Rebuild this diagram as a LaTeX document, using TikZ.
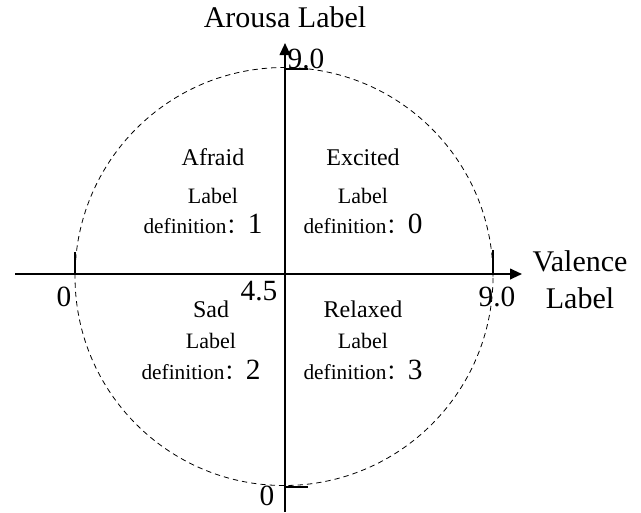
\documentclass[tikz,border=0pt]{standalone}
\usepackage{fontspec}
\setmainfont{Liberation Serif}
\newfontfamily\cjk{Noto Sans CJK SC}
\usetikzlibrary{arrows.meta}
\newcommand{\qdefn}[1]{definition{\cjk ：}{\fontsize{22}{24}\selectfont #1}}
\begin{document}
\begin{tikzpicture}[x=0.75pt,y=-0.75pt,
  axis/.style={line width=1.4pt},
  tickline/.style={line width=1.2pt},
  big/.style={font=\fontsize{22.5}{25}\selectfont, inner sep=0pt},
  num/.style={font=\fontsize{22}{24}\selectfont, inner sep=0pt},
  qtitle/.style={font=\fontsize{18}{20}\selectfont, inner sep=0pt},
  qlab/.style={font=\fontsize{16.5}{19}\selectfont, inner sep=0pt},
  qdef/.style={font=\fontsize{16}{19}\selectfont, inner sep=0pt}]
\useasboundingbox (0,0) rectangle (641,512);
\coordinate (center) at (284,276.5);
\draw[dashed, line width=0.6pt, dash pattern=on 4pt off 3pt] (center) circle[radius=156.75pt];
\coordinate (hstart) at (15,274);
\coordinate (hend) at (522,274);
\coordinate (vstart) at (285,512);
\coordinate (vend) at (285,43);
\draw[axis,-{Triangle[length=9pt,width=8pt]}] (hstart) -- (hend);
\draw[axis,-{Triangle[length=9pt,width=8pt]}] (vstart) -- (vend);
% ticks
\coordinate (tl0) at (75,274); \coordinate (tl1) at (75,252);
\coordinate (tr0) at (493,274); \coordinate (tr1) at (493,250);
\coordinate (tt0) at (285,69); \coordinate (tt1) at (308,69);
\coordinate (tb0) at (285,487); \coordinate (tb1) at (308,487);
\draw[tickline] (tl0) -- (tl1);
\draw[tickline] (tr0) -- (tr1);
\draw[tickline] (tt0) -- (tt1);
\draw[tickline] (tb0) -- (tb1);
% axis labels
\node[big] (arousal) at (285,17) {Arousa Label};
\node[big] (valence) at (580,261) {Valence};
\node[big] (vlabel) at (580,298) {Label};
\node[num] (ntop) at (306,59) {9.0};
\node[num] (nleft) at (64,297) {0};
\node[num] (nright) at (497,297) {9.0};
\node[num] (nmid) at (259,291) {4.5};
\node[num] (nbot) at (267,496) {0};
% quadrants
\node[qtitle] (afraid) at (213,157) {Afraid};
\node[qlab] (afraidl) at (213,196) {Label};
\node[qdef] (afraidd) at (203,224) {\qdefn{1}};
\node[qtitle] (excited) at (363,157) {Excited};
\node[qlab] (excitedl) at (363,196) {Label};
\node[qdef] (excitedd) at (363,224) {\qdefn{0}};
\node[qtitle] (sad) at (211,309) {Sad};
\node[qlab] (sadl) at (211,341) {Label};
\node[qdef] (sadd) at (201,370) {\qdefn{2}};
\node[qtitle] (relaxed) at (363,309) {Relaxed};
\node[qlab] (relaxedl) at (363,341) {Label};
\node[qdef] (relaxedd) at (363,370) {\qdefn{3}};
\end{tikzpicture}
\end{document}
